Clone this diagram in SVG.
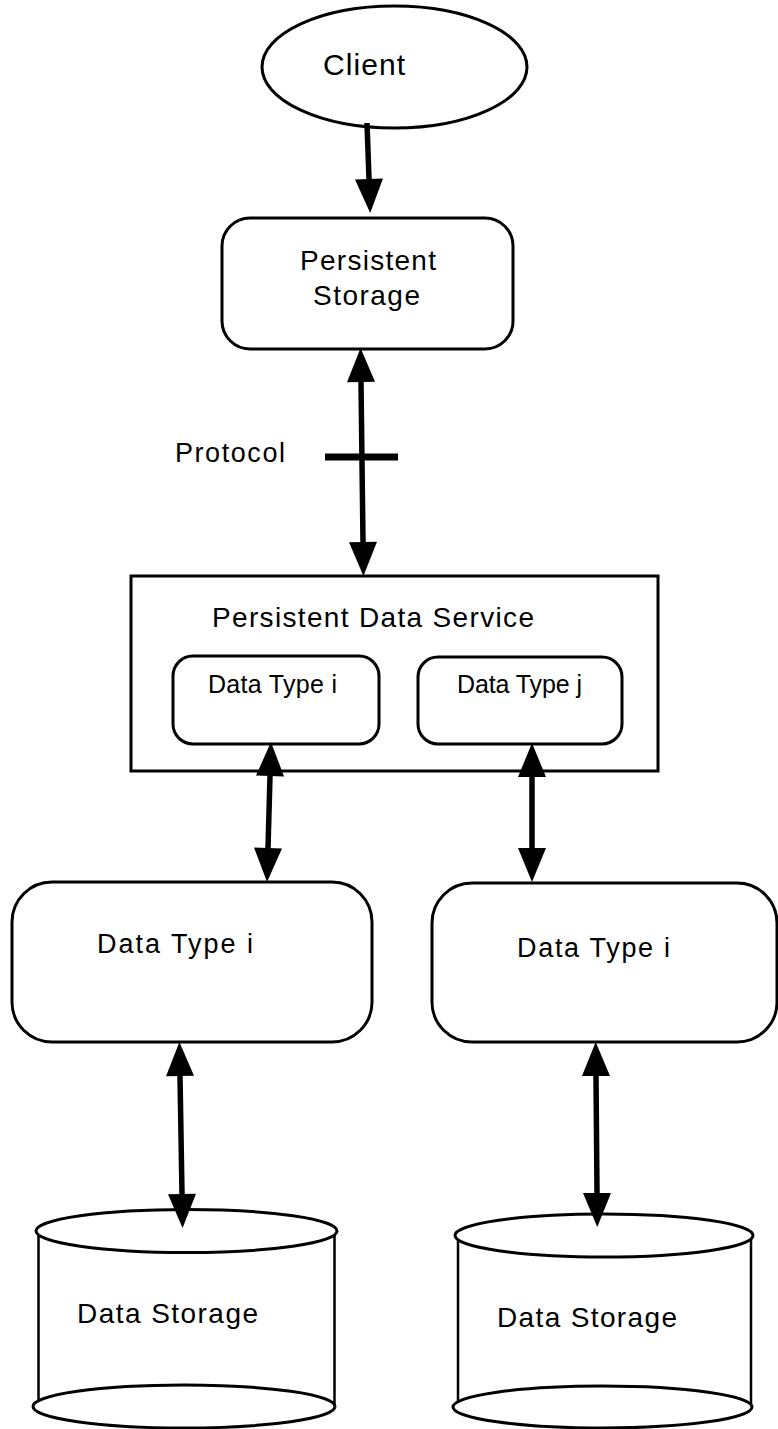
<svg xmlns="http://www.w3.org/2000/svg" width="778" height="1429" viewBox="0 0 778 1429">
  <style>
    .shape { fill: #ffffff; stroke: #000000; stroke-width: 3; }
    .side { fill: none; stroke: #000000; stroke-width: 2.5; }
    .label { font-family: "Liberation Sans", Arial, Helvetica, sans-serif; fill: #000000; }
    .conn { fill: none; stroke: #000000; stroke-width: 5.5; }
  </style>
  <defs>
    <!-- filled arrowhead, reference point at its base so the head sits beyond the line end -->
    <marker id="head" markerUnits="userSpaceOnUse" markerWidth="34" markerHeight="28" viewBox="0 0 34 28" refX="0" refY="14" orient="auto-start-reverse" overflow="visible">
      <path d="M0,0 L34,14 L0,28 Z" fill="#000000"/>
    </marker>
  </defs>
  <rect width="778" height="1429" fill="#ffffff"/>

  <g id="client">
    <ellipse class="shape" cx="394.5" cy="67" rx="132.5" ry="61"/>
    <text class="label" x="323" y="75" font-size="30" textLength="82" lengthAdjust="spacing">Client</text>
  </g>

  <g id="persistent-storage">
    <rect class="shape" x="222" y="218" width="291" height="131" rx="28" ry="28"/>
    <text class="label" x="300" y="270" font-size="28" textLength="136" lengthAdjust="spacing">Persistent</text>
    <text class="label" x="313" y="305" font-size="28" textLength="107" lengthAdjust="spacing">Storage</text>
  </g>

  <g id="protocol">
    <text class="label" x="175" y="462" font-size="27" textLength="110" lengthAdjust="spacing">Protocol</text>
  </g>

  <g id="persistent-data-service">
    <rect class="shape" x="131" y="576" width="527" height="195"/>
    <text class="label" x="212" y="627" font-size="28" textLength="322" lengthAdjust="spacing">Persistent Data Service</text>
  </g>

  <g id="pds-data-type-i">
    <rect class="shape" x="173" y="656" width="206" height="88" rx="20" ry="20"/>
    <text class="label" x="208" y="693" font-size="25" textLength="129" lengthAdjust="spacing">Data Type i</text>
  </g>

  <g id="pds-data-type-j">
    <rect class="shape" x="418" y="657" width="204" height="87" rx="20" ry="20"/>
    <text class="label" x="457" y="693" font-size="25" textLength="125" lengthAdjust="spacing">Data Type j</text>
  </g>

  <g id="data-type-left">
    <rect class="shape" x="12" y="882" width="360" height="160" rx="40" ry="40"/>
    <text class="label" x="97" y="953" font-size="27" textLength="156" lengthAdjust="spacing">Data Type i</text>
  </g>

  <g id="data-type-right">
    <rect class="shape" x="432" y="883" width="345" height="159" rx="40" ry="40"/>
    <text class="label" x="517" y="957" font-size="27" textLength="153" lengthAdjust="spacing">Data Type i</text>
  </g>

  <g id="data-storage-left">
    <rect x="38.5" y="1231" width="296" height="175" fill="#ffffff"/>
    <line class="side" x1="38.5" y1="1233" x2="38.5" y2="1406"/>
    <line class="side" x1="334.5" y1="1233" x2="334.5" y2="1406"/>
    <ellipse class="shape" cx="184" cy="1406.5" rx="151" ry="21.5"/>
    <ellipse class="shape" cx="186.5" cy="1231" rx="150.5" ry="21.5"/>
    <text class="label" x="77" y="1323" font-size="28" textLength="181" lengthAdjust="spacing">Data Storage</text>
  </g>

  <g id="data-storage-right">
    <rect x="458" y="1235" width="293" height="172" fill="#ffffff"/>
    <line class="side" x1="458" y1="1237" x2="458" y2="1407"/>
    <line class="side" x1="751" y1="1237" x2="751" y2="1407"/>
    <ellipse class="shape" cx="602.5" cy="1407" rx="149.5" ry="21"/>
    <ellipse class="shape" cx="604" cy="1235.5" rx="149" ry="21.5"/>
    <text class="label" x="497" y="1327" font-size="28" textLength="180" lengthAdjust="spacing">Data Storage</text>
  </g>

  <g id="connectors">
    <line class="conn" x1="367" y1="123" x2="369" y2="179" marker-end="url(#head)"/>
    <line class="conn" x1="361" y1="382" x2="363" y2="542" marker-start="url(#head)" marker-end="url(#head)"/>
    <line x1="325" y1="457" x2="398" y2="457" stroke="#000000" stroke-width="7"/>
    <line class="conn" x1="270" y1="776" x2="268" y2="848" marker-start="url(#head)" marker-end="url(#head)"/>
    <line class="conn" x1="532" y1="777" x2="532" y2="848" marker-start="url(#head)" marker-end="url(#head)"/>
    <line class="conn" x1="180" y1="1076" x2="182" y2="1194" marker-start="url(#head)" marker-end="url(#head)"/>
    <line class="conn" x1="596" y1="1076" x2="597" y2="1193" marker-start="url(#head)" marker-end="url(#head)"/>
  </g>
</svg>
